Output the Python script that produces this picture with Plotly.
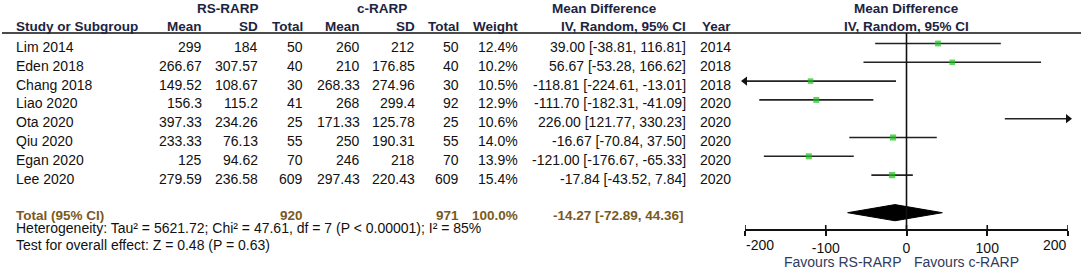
import plotly.graph_objects as go

W, H = 1084, 271

# ---------------- data ----------------
studies = ["Lim 2014", "Eden 2018", "Chang 2018", "Liao 2020", "Ota 2020", "Qiu 2020", "Egan 2020", "Lee 2020"]
rs_mean = [299, 266.67, 149.52, 156.3, 397.33, 233.33, 125, 279.59]
rs_sd = [184, 307.57, 108.67, 115.2, 234.26, 76.13, 94.62, 236.58]
rs_total = [50, 40, 30, 41, 25, 55, 70, 609]
c_mean = [260, 210, 268.33, 268, 171.33, 250, 246, 297.43]
c_sd = [212, 176.85, 274.96, 299.4, 125.78, 190.31, 218, 220.43]
c_total = [50, 40, 30, 92, 25, 55, 70, 609]
weight = [12.4, 10.2, 10.5, 12.9, 10.6, 14.0, 13.9, 15.4]
md = [39.00, 56.67, -118.81, -111.70, 226.00, -16.67, -121.00, -17.84]
md_lo = [-38.81, -53.28, -224.61, -182.31, 121.77, -70.84, -176.67, -43.52]
md_hi = [116.81, 166.62, -13.01, -41.09, 330.23, 37.50, -65.33, 7.84]
year = [2014, 2018, 2018, 2020, 2020, 2020, 2020, 2020]

total_rs = 920
total_c = 971
total_weight = 100.0
pooled = -14.27
pooled_lo = -72.89
pooled_hi = 44.36
heterogeneity = "Heterogeneity: Tau² = 5621.72; Chi² = 47.61, df = 7 (P &lt; 0.00001); I² = 85%"
overall = "Test for overall effect: Z = 0.48 (P = 0.63)"

x_ticks = [-200, -100, 0, 100, 200]
x_min, x_max = -200, 200
label_left = "Favours RS-RARP"
label_right = "Favours c-RARP"

# ---------------- layout helpers ----------------
FONT = "Arial, 'Liberation Sans', sans-serif"
FS = 14
FSB = 13.5
BLACK = "#111111"
HEAD = "#1d2440"
TOT = "#7a5a1c"
FAV = "#303a5e"
GREEN = "#19c419"

ROW0 = 43.5      # pixel y of first study line in forest
ROWH = 18.8      # pixel step between rows
TXT_OFF = 3.5    # text centre offset below forest line
AXIS_PX = 229    # pixel y of the x axis line
HEAD_LINE_PX = 33
diamond_row = 9


def py(p):
    return 1 - p / H


def px(p):
    return p / W


def row_px(i):
    return ROW0 + ROWH * i


y_range = [(AXIS_PX - ROW0) / ROWH, (0 - ROW0) / ROWH]

fig = go.Figure()

# CI lines (clipped to axis range)
lx, ly = [], []
arr_l_x, arr_l_y, arr_r_x, arr_r_y = [], [], [], []
for i, (lo, hi) in enumerate(zip(md_lo, md_hi)):
    a = max(lo, x_min)
    b = min(hi, x_max)
    lx += [a, b, None]
    ly += [i, i, None]
    if lo < x_min:
        arr_l_x.append(x_min)
        arr_l_y.append(i)
    if hi > x_max:
        arr_r_x.append(x_max)
        arr_r_y.append(i)

fig.add_trace(go.Scatter(x=lx, y=ly, mode="lines", line=dict(color="#222222", width=1.6),
                         hoverinfo="skip", showlegend=False))
fig.add_trace(go.Scatter(x=arr_l_x, y=arr_l_y, mode="markers", cliponaxis=False,
                         marker=dict(symbol="triangle-left", size=8, color="#111111"),
                         hoverinfo="skip", showlegend=False))
fig.add_trace(go.Scatter(x=arr_r_x, y=arr_r_y, mode="markers", cliponaxis=False,
                         marker=dict(symbol="triangle-right", size=8, color="#111111"),
                         hoverinfo="skip", showlegend=False))
fig.add_trace(go.Scatter(x=md, y=list(range(len(md))), mode="markers",
                         marker=dict(symbol="square", size=[4 + w * 0.15 for w in weight],
                                     color=GREEN, line=dict(width=0)),
                         hoverinfo="skip", showlegend=False))

# pooled diamond
dh = 0.43
fig.add_trace(go.Scatter(x=[pooled_lo, pooled, pooled_hi, pooled, pooled_lo],
                         y=[diamond_row, diamond_row - dh, diamond_row, diamond_row + dh, diamond_row],
                         mode="lines", fill="toself", fillcolor="#000000",
                         line=dict(color="#000000", width=1), hoverinfo="skip", showlegend=False))

shapes = []
# header rule
shapes.append(dict(type="line", xref="paper", yref="paper", x0=px(2), x1=px(1081),
                   y0=py(HEAD_LINE_PX), y1=py(HEAD_LINE_PX), line=dict(color="#111111", width=1.6)))
# zero line
shapes.append(dict(type="line", xref="x", yref="paper", x0=0, x1=0,
                   y0=py(HEAD_LINE_PX), y1=py(AXIS_PX), line=dict(color="#111111", width=1.6)))
# upper half of tick marks
for t in x_ticks:
    shapes.append(dict(type="line", xref="x", yref="paper", x0=t, x1=t,
                       y0=py(AXIS_PX), y1=py(AXIS_PX - 4), line=dict(color="#111111", width=1.6)))

ann = []


def text(s, x, ypix, anchor="right", color=BLACK, bold=False, xref="paper"):
    size = FS
    if bold:
        s = "<b>" + s + "</b>"
        size = FSB
    ann.append(dict(text=s, x=px(x) if xref == "paper" else x, xref=xref, y=py(ypix), yref="paper",
                    xanchor=anchor, yanchor="middle", showarrow=False,
                    font=dict(family=FONT, size=size, color=color), borderpad=0))


# headers
H1, H2 = 9, 27
text("RS-RARP", 228, H1, "center", HEAD, True)
text("c-RARP", 382, H1, "center", HEAD, True)
text("Mean Difference", 604, H1, "center", HEAD, True)
text("Mean Difference", 0, H1, "center", HEAD, True, xref="x")
text("Study or Subgroup", 15, H2, "left", HEAD, True)
cols = {"rs_mean": 203, "rs_sd": 259, "rs_total": 304, "c_mean": 361, "c_sd": 416,
        "c_total": 460, "weight": 519, "ci": 687, "year": 732}
text("Mean", cols["rs_mean"], H2, "right", HEAD, True)
text("SD", cols["rs_sd"], H2, "right", HEAD, True)
text("Total", cols["rs_total"], H2, "right", HEAD, True)
text("Mean", cols["c_mean"], H2, "right", HEAD, True)
text("SD", cols["c_sd"], H2, "right", HEAD, True)
text("Total", cols["c_total"], H2, "right", HEAD, True)
text("Weight", cols["weight"], H2, "right", HEAD, True)
text("IV, Random, 95% CI", cols["ci"], H2, "right", HEAD, True)
text("Year", cols["year"], H2, "right", HEAD, True)
text("IV, Random, 95% CI", 0, H2, "center", HEAD, True, xref="x")

for i, s in enumerate(studies):
    yp = row_px(i) + TXT_OFF
    text(s, 15, yp, "left")
    text(f"{rs_mean[i]:g}", cols["rs_mean"], yp)
    text(f"{rs_sd[i]:g}", cols["rs_sd"], yp)
    text(f"{rs_total[i]}", cols["rs_total"], yp)
    text(f"{c_mean[i]:g}", cols["c_mean"], yp)
    text(f"{c_sd[i]:g}", cols["c_sd"], yp)
    text(f"{c_total[i]}", cols["c_total"], yp)
    text(f"{weight[i]:.1f}%", cols["weight"], yp)
    text(f"{md[i]:.2f} [{md_lo[i]:.2f}, {md_hi[i]:.2f}]", cols["ci"], yp)
    text(f"{year[i]}", cols["year"], yp)

TY = 215
text("Total (95% CI)", 15, TY, "left", TOT, True)
text(f"{total_rs}", cols["rs_total"], TY, "right", TOT, True)
text(f"{total_c}", cols["c_total"], TY, "right", TOT, True)
text(f"{total_weight:.1f}%", cols["weight"], TY, "right", TOT, True)
text(f"{pooled:.2f} [{pooled_lo:.2f}, {pooled_hi:.2f}]", cols["ci"] - 2, TY, "right", TOT, True)
text(heterogeneity, 15, 228, "left")
text(overall, 15, 245, "left")

# edge tick labels sit inside the axis ends (as in the reference)
text(str(x_ticks[0]), x_ticks[0], 245, "left", BLACK, False, xref="x")
text(str(x_ticks[-1]), x_ticks[-1], 245, "right", BLACK, False, xref="x")

text(label_left, 902, 262, "right", FAV)
text(label_right, 913, 262, "left", FAV)

fig.update_layout(
    width=W, height=H,
    margin=dict(l=0, r=0, t=0, b=0),
    paper_bgcolor="white", plot_bgcolor="white",
    showlegend=False,
    shapes=shapes,
    annotations=ann,
    xaxis=dict(domain=[px(745), px(1068)], range=[x_min, x_max], tickvals=x_ticks,
               ticktext=["" if t in (x_ticks[0], x_ticks[-1]) else str(t) for t in x_ticks],
               showline=True, linecolor="#111111", linewidth=1.6,
               ticks="outside", ticklen=5, tickwidth=1.6, tickcolor="#111111",
               tickfont=dict(family=FONT, size=FS, color=BLACK),
               showgrid=False, zeroline=False, fixedrange=True, anchor="y"),
    yaxis=dict(domain=[py(AXIS_PX), 1], range=y_range, visible=False,
               showgrid=False, zeroline=False, fixedrange=True),
)

fig.write_html("out.html", config={"displayModeBar": False},
               post_script="document.body.style.margin='0';document.body.style.overflow='hidden';")
